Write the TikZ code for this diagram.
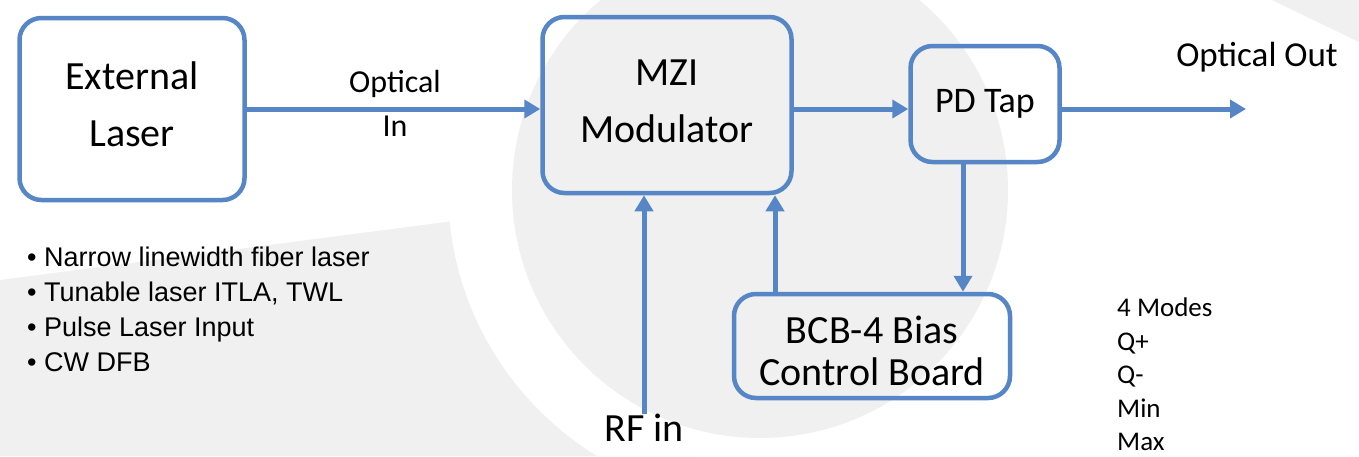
\documentclass[tikz,border=0pt]{standalone}
\usepackage{fontspec}
\setmainfont{Carlito}
\newfontfamily\arialfont{Liberation Sans}
\usetikzlibrary{arrows.meta,calc}
\definecolor{boxblue}{RGB}{86,134,198}
\definecolor{bggrey}{RGB}{240,240,240}
\begin{document}
\begin{tikzpicture}[x=1pt,y=-1pt,
  block/.style={draw=boxblue, line width=4.5pt, rounded corners=22pt,
    inner sep=0pt},
  link/.style={draw=boxblue, line width=5pt,
    -{Triangle[length=16pt,width=18pt]}},
  lbl/.style={inner sep=0pt, align=center},
  big/.style={font=\fontsize{40}{57}\selectfont},
  small/.style={font=\fontsize{27}{33.5}\selectfont}]

% backdrop: white page, grey disc and grey swoosh
\useasboundingbox (0,0) rectangle (1359,456);
\fill[white] (0,0) rectangle (1359,456);
\begin{scope}
  \clip (0,280) -- (700,189) -- (700,456) -- (0,456) -- cycle;
  \fill[bggrey, even odd rule] (0,0) rectangle (1359,456) (760,190) circle (312);
\end{scope}
\fill[bggrey] (760,190) circle (248);
\fill[bggrey] (1272,0) -- (1359,0) -- (1359,42) -- cycle;

% blocks
\node[block, minimum width=225pt, minimum height=182pt] (ext) at (132,109) {};
\node[block, minimum width=249pt, minimum height=176pt] (mzi) at (667,105) {};
\node[block, minimum width=149pt, minimum height=116pt] (pd) at (985,104) {};
\node[block, minimum width=276pt, minimum height=104pt] (bcb) at (872,346) {};

% block captions
\node[lbl, big] (exttext) at ($(ext)+(0,-5)$) {External\\Laser};
\node[lbl, big] (mzitext) at ($(mzi)+(0,-4)$) {MZI\\Modulator};
\node[lbl, font=\fontsize{36}{44}\selectfont] (pdtext) at (pd) {PD Tap};
\node[lbl, font=\fontsize{40}{42}\selectfont] (bcbtext) at ($(bcb)+(0,5)$) {BCB-4 Bias\\Control Board};

% free labels
\node[lbl, font=\fontsize{32}{44}\selectfont] (optin) at (395,103) {Optical\\In};
\node[lbl, font=\fontsize{35}{44}\selectfont] (optout) at (1257,57) {Optical Out};
\node[lbl, font=\fontsize{40}{44}\selectfont] (rf) at (644,428) {RF in};
\node[lbl, small, align=left, anchor=north west] (modes) at (1117,298)
  {4 Modes\\Q+\\Q-\\Min\\Max};
\node[lbl, anchor=north west, align=left, font=\arialfont\fontsize{27}{35}\selectfont] (list) at (27,247)
  {\textbullet\ Narrow linewidth fiber laser\\
   \textbullet\ Tunable laser ITLA, TWL\\
   \textbullet\ Pulse Laser Input\\
   \textbullet\ CW DFB};

% connectors
\coordinate (row) at (0,109);
\coordinate (outend) at (1246,109);
\coordinate (tapx) at (963,0);
\coordinate (fbx) at (775,0);
\draw[link] (ext.east |- row) -- (mzi.west |- row);
\draw[link] (mzi.east |- row) -- (pd.west |- row);
\draw[link] (pd.east |- row) -- (outend);
\draw[link] (pd.south -| tapx) -- (bcb.north -| tapx);
\draw[link] (bcb.north -| fbx) -- (mzi.south -| fbx);
\draw[link] (rf.north) -- (mzi.south -| rf.north);
\end{tikzpicture}
\end{document}
